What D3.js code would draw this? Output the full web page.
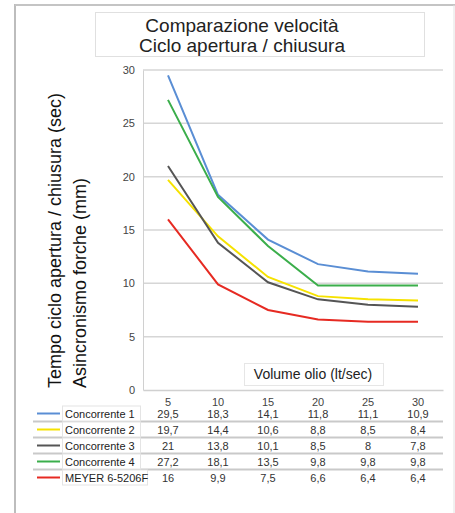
<!DOCTYPE html>
<html><head><meta charset="utf-8">
<script src="https://cdn.jsdelivr.net/npm/d3@7/dist/d3.min.js"></script>
<style>body{margin:0;background:#fff;}svg{display:block;font-family:"Liberation Sans",Arial,sans-serif;}</style>
</head><body>
<svg id="c" width="455" height="513"></svg>
<script>
const categories = ["5","10","15","20","25","30"];
const seriesNames = ["Concorrente 1","Concorrente 2","Concorrente 3","Concorrente 4","MEYER 6-5206F"];
const conc1 = [29.5,18.3,14.1,11.8,11.1,10.9];
const conc2 = [19.7,14.4,10.6,8.8,8.5,8.4];
const conc3 = [21,13.8,10.1,8.5,8,7.8];
const conc4 = [27.2,18.1,13.5,9.8,9.8,9.8];
const meyer = [16,9.9,7.5,6.6,6.4,6.4];
const yTicks = [0,5,10,15,20,25,30];
const colors = ["#5a8ed4","#f6e200","#555555","#3bae4b","#e62a22"];
const seriesVals = [conc1,conc2,conc3,conc4,meyer];
const fmt = v => String(v).replace(".", ",");

const svg = d3.select("#c");
// outer frame
svg.append("line").attr("x1",15).attr("x2",15).attr("y1",4).attr("y2",513).attr("stroke","#bdbdbd").attr("stroke-width",2);
svg.append("line").attr("x1",15).attr("x2",455).attr("y1",5).attr("y2",5).attr("stroke","#c4c4c4").attr("stroke-width",2);
svg.append("line").attr("x1",454).attr("x2",454).attr("y1",5).attr("y2",513).attr("stroke","#e2e2e2").attr("stroke-width",1);

// title box
svg.append("rect").attr("x",95.5).attr("y",12.5).attr("width",329).attr("height",44).attr("fill","#fff").attr("stroke","#e0e0e0");
svg.append("text").attr("x",242).attr("y",32).attr("text-anchor","middle").attr("font-size",19).attr("fill","#222").text("Comparazione velocità");
svg.append("text").attr("x",242).attr("y",52).attr("text-anchor","middle").attr("font-size",19).attr("fill","#222").text("Ciclo apertura / chiusura");

const x = d3.scaleBand().domain(categories).range([143,443]);
const y = d3.scaleLinear().domain([0,30]).range([390,70]);

// gridlines
svg.append("g").selectAll("line").data(yTicks.filter(t=>t>0)).join("line")
  .attr("x1",143).attr("x2",443).attr("y1",d=>y(d)).attr("y2",d=>y(d))
  .attr("stroke","#d6d6d6").attr("stroke-width",1.5);

// y axis
const yAxis = svg.append("g").attr("transform","translate(143,0)")
  .call(d3.axisLeft(y).tickValues(yTicks).tickSize(0).tickPadding(8));
yAxis.select(".domain").attr("stroke","#d0d0d0");
yAxis.selectAll("text").attr("font-size",11).attr("fill","#444").attr("font-family","Liberation Sans, Arial, sans-serif");

// x axis baseline
const xAxis = svg.append("g").attr("transform","translate(0,390)")
  .call(d3.axisBottom(x).tickSize(0).tickPadding(8));
xAxis.select(".domain").attr("stroke","#d0d0d0").attr("stroke-width",1.5);
xAxis.selectAll("text").attr("font-size",11).attr("fill","#444").attr("font-family","Liberation Sans, Arial, sans-serif");

// y label
const yl = svg.append("text").attr("transform","translate(61,388) rotate(-90)").attr("font-size",18).attr("fill","#111");
yl.append("tspan").attr("x",0).attr("y",0).text("Tempo ciclo apertura / chiusura (sec)");
yl.append("tspan").attr("x",0).attr("y",25).text("Asincronismo forche (mm)");

// Volume olio box
svg.append("rect").attr("x",244.5).attr("y",363.5).attr("width",139).attr("height",22).attr("fill","#fff").attr("stroke","#e6e6e6");
svg.append("text").attr("x",313).attr("y",379).attr("text-anchor","middle").attr("font-size",14).attr("fill","#222").text("Volume olio (lt/sec)");

// lines
const line = d3.line().x((d,i)=>x(categories[i])+x.bandwidth()/2).y(d=>y(d));
svg.append("g").selectAll("path").data(seriesVals).join("path")
  .attr("d",d=>line(d)).attr("fill","none").attr("stroke",(d,i)=>colors[i]).attr("stroke-width",2);

// table
const rowY = i => 413.5 + i*16;
svg.append("g").selectAll("line").data([0,1,2,3]).join("line")
  .attr("x1",33).attr("x2",443).attr("y1",d=>rowY(d)+8).attr("y2",d=>rowY(d)+8)
  .attr("stroke","#c9c9c9").attr("stroke-width",2);
const rows = svg.append("g").selectAll("g").data(seriesNames).join("g");
rows.append("line").attr("x1",37).attr("x2",60).attr("y1",(d,i)=>rowY(i)).attr("y2",(d,i)=>rowY(i))
  .attr("stroke",(d,i)=>colors[i]).attr("stroke-width",2);
rows.append("rect").attr("x",62.5).attr("y",(d,i)=>rowY(i)-7.5).attr("width",(d,i)=>i===4?85:78).attr("height",15)
  .attr("fill","#fff").attr("stroke","#e4e4e4");
rows.append("text").attr("x",65).attr("y",(d,i)=>rowY(i)+4).attr("font-size",11).attr("fill","#222").text(d=>d);
rows.each(function(d,i){
  d3.select(this).selectAll("text.v").data(seriesVals[i]).join("text").attr("class","v")
    .attr("x",(v,j)=>x(categories[j])+x.bandwidth()/2).attr("y",rowY(i)+4)
    .attr("text-anchor","middle").attr("font-size",11).attr("fill","#333").text(v=>fmt(v));
});
</script>
</body></html>
